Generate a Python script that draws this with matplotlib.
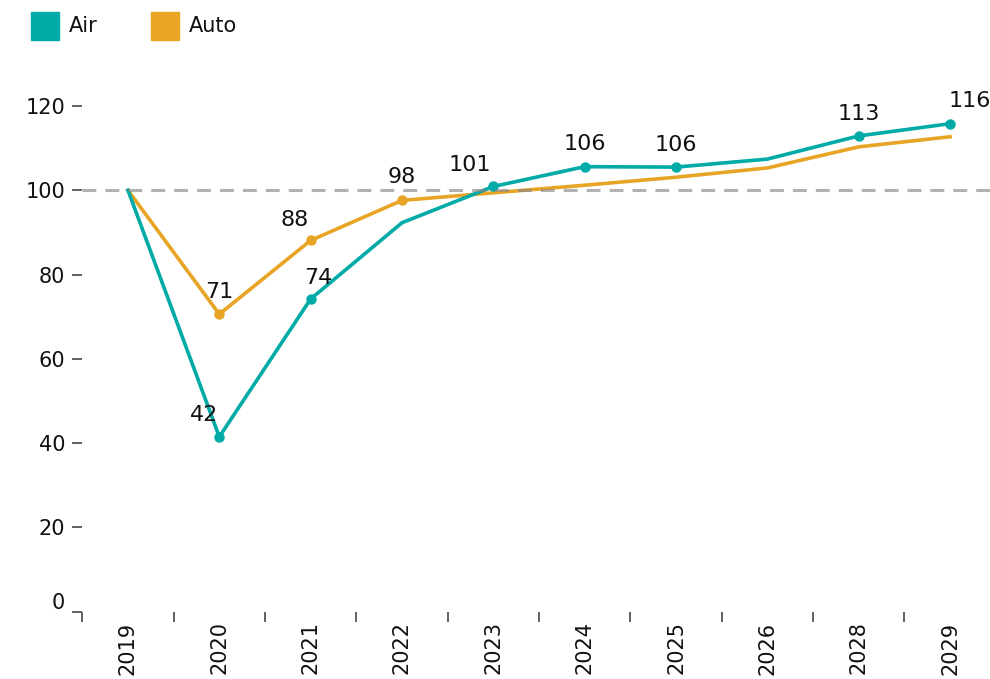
import matplotlib
matplotlib.use("Agg")
import matplotlib.pyplot as plt
import matplotlib.transforms as mtrans
from matplotlib.patches import Rectangle

plt.rcParams['font.family'] = ['DejaVu Sans']
plt.rcParams['lines.scale_dashes'] = False

years = ["2019", "2020", "2021", "2022", "2023", "2024", "2025", "2026", "2028", "2029"]
air = [100, 41.5, 74.2, 92.3, 100.9, 105.6, 105.5, 107.4, 112.9, 115.8]
auto = [100, 70.6, 88.1, 97.6, 99.4, 101.2, 103.1, 105.3, 110.3, 112.7]
air_labelled = [1, 2, 4, 5, 6, 8, 9]
auto_labelled = [1, 2, 3]
y_ticks = [0, 20, 40, 60, 80, 100, 120]
baseline = 100

# label offsets in pixels (dx, dy up)
air_offsets = {1: (-15, 22), 2: (8, 21), 4: (-24, 21), 5: (0, 23), 6: (0, 22), 8: (0, 22), 9: (20, 23)}
auto_offsets = {1: (0, 22), 2: (-16, 20), 3: (0, 23)}

c_air = '#00AAA6'
c_auto = '#E8A424'

W, H = 990, 679
fig = plt.figure(figsize=(W / 100, H / 100), dpi=100)
left, right, bottom, top = 82.3, 995.7, 611.7, 106.0
ax = fig.add_axes([left / W, 1 - bottom / H, (right - left) / W, (bottom - top) / H])

x = list(range(len(years)))
ax.plot(x, auto, color=c_auto, lw=2.6, solid_joinstyle='round', clip_on=False, zorder=3)
ax.plot(x, air, color=c_air, lw=2.6, solid_joinstyle='round', clip_on=False, zorder=4)
ax.plot([x[i] for i in auto_labelled], [auto[i] for i in auto_labelled], 'o', color=c_auto,
        ms=6.5, clip_on=False, zorder=3)
ax.plot([x[i] for i in air_labelled], [air[i] for i in air_labelled], 'o', color=c_air,
        ms=6.5, clip_on=False, zorder=4)

ax.axhline(baseline, color='#888888', alpha=0.65, lw=2.2, linestyle=(0, (10, 6.5)), zorder=5)

for series, idxs, offs in ((air, air_labelled, air_offsets), (auto, auto_labelled, auto_offsets)):
    for i in idxs:
        dx, dy = offs[i]
        ax.annotate(f"{series[i]:.0f}", (x[i], series[i]), xytext=(dx * 0.72, dy * 0.72),
                    textcoords='offset points', ha='center', va='center', fontsize=16,
                    color='#111111', annotation_clip=False, zorder=6)

ax.set_xlim(-0.5, len(years) - 0.5)
ax.set_ylim(0, 120)
for s in ax.spines.values():
    s.set_visible(False)

ax.set_yticks(y_ticks)
ax.set_yticklabels([str(v) for v in y_ticks], fontsize=15, color='#111111')
ax.tick_params(axis='y', length=7.2, width=1.3, color='#555555', pad=5)
# lift the "0" label a bit
lbl0 = ax.get_yticklabels()[0]
lbl0.set_transform(lbl0.get_transform() + mtrans.ScaledTranslation(0, 11 / 100, fig.dpi_scale_trans))

ax.set_xticks(x)
ax.set_xticklabels(years, rotation=90, fontsize=15, color='#111111')
ax.tick_params(axis='x', which='major', length=0, pad=7)
ax.set_xticks([i - 0.5 for i in range(len(years) + 1)], minor=True)
ax.tick_params(axis='x', which='minor', length=7.2, width=1.3, color='#555555')

# legend
def fig_rect(px, py, w, h, color):
    fig.patches.append(Rectangle((px / W, 1 - (py + h) / H), w / W, h / H,
                                 transform=fig.transFigure, color=color, figure=fig))

fig_rect(31, 12, 28, 28, c_air)
fig.text(69 / W, 1 - 26 / H, "Air", fontsize=15, va='center', ha='left', color='#111111')
fig_rect(151, 12, 28, 28, c_auto)
fig.text(189 / W, 1 - 26 / H, "Auto", fontsize=15, va='center', ha='left', color='#111111')

fig.savefig("out.png", dpi=100)
